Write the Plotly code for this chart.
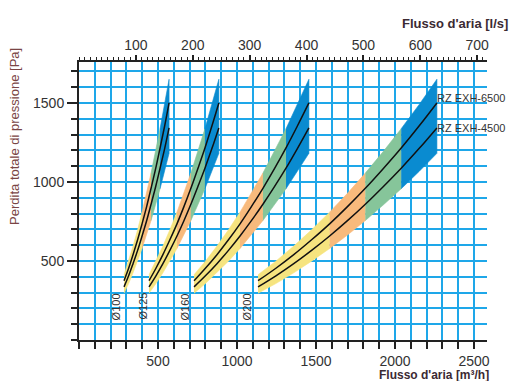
import plotly.graph_objects as go

# ---- data ----
# air flow (m3/h) along each duct curve, fractions 0.50..1.00 of its max flow
q_d100 = [285, 314, 342, 371, 399, 428, 456, 485, 513, 542, 570]
q_d125 = [443, 487, 531, 575, 620, 664, 708, 752, 797, 841, 885]
q_d160 = [728, 800, 873, 946, 1019, 1091, 1164, 1237, 1310, 1382, 1455]
q_d200 = [1133, 1246, 1359, 1472, 1586, 1699, 1812, 1925, 2039, 2152, 2265]
# pressure (Pa) of the two models at those points (same for every duct)
p_6500 = [375, 454, 540, 634, 735, 844, 960, 1084, 1215, 1354, 1500]
p_4500 = [336, 406, 483, 567, 658, 755, 859, 970, 1087, 1211, 1342]
# upper / lower edge of the coloured working band
band_hi = [413, 499, 594, 697, 809, 928, 1056, 1192, 1337, 1489, 1650]
band_lo = [296, 357, 425, 499, 579, 664, 756, 854, 957, 1066, 1181]

ducts = ["Ø100", "Ø125", "Ø160", "Ø200"]
duct_q = [q_d100, q_d125, q_d160, q_d200]
duct_label_q = [240, 405, 677, 1069]
duct_label_p = 212

# band colour segments (index ranges along the curves)
seg_ranges = [(0, 4), (4, 6), (6, 8), (8, 10)]
seg_colors = ["#F6E47F", "#F8BA7C", "#86C59A", "#0A8BD0"]

model_labels = ["RZ EXH-6500", "RZ EXH-4500"]
model_label_p = [1532, 1342]

x_major = [500, 1000, 1500, 2000, 2500]
y_major = [500, 1000, 1500]
top_ticks = [100, 200, 300, 400, 500, 600, 700]

X_MAX = 2582
Y_MAX = 1759
GRID = "#1EA7E9"
AX = "#222222"
FONT = "Liberation Sans"

fig = go.Figure()

for q in duct_q:
    for (i0, i1), col in zip(seg_ranges, seg_colors):
        xs = q[i0:i1 + 1] + q[i0:i1 + 1][::-1]
        ys = band_hi[i0:i1 + 1] + band_lo[i0:i1 + 1][::-1]
        fig.add_trace(go.Scatter(x=xs, y=ys, fill="toself", fillcolor=col,
                                 mode="lines", line=dict(color=col, width=0.6),
                                 hoverinfo="skip", showlegend=False))
    for p in (p_6500, p_4500):
        fig.add_trace(go.Scatter(x=q, y=p, mode="lines",
                                 line=dict(color="#111111", width=1.5, shape="spline"),
                                 showlegend=False))

# invisible trace to carry the top (l/s) axis
fig.add_trace(go.Scatter(x=[0, X_MAX / 3.6], y=[0, 0], xaxis="x2", mode="markers",
                         marker=dict(opacity=0), hoverinfo="skip", showlegend=False))

for name, qx in zip(ducts, duct_label_q):
    fig.add_annotation(x=qx, y=duct_label_p, text=name, showarrow=False,
                       textangle=-90, xanchor="center", yanchor="middle",
                       font=dict(family=FONT, size=11, color="#333"))

for lab, p in zip(model_labels, model_label_p):
    fig.add_annotation(x=2254, y=p, text=lab, showarrow=False, xanchor="left",
                       yanchor="middle", font=dict(family=FONT, size=11, color="#333"))

fig.add_annotation(xref="paper", yref="paper", x=-0.157, y=0.734,
                   xanchor="center", yanchor="middle",
                   text="Perdita totale di pressione [Pa]", textangle=-90,
                   showarrow=False, font=dict(family=FONT, size=13, color="#7a4545"))
fig.add_annotation(xref="paper", yref="paper", x=0.922, y=1.14,
                   xanchor="center", yanchor="middle",
                   text="<b>Flusso d'aria [l/s]</b>", showarrow=False,
                   font=dict(family=FONT, size=13, color="#3b2a33"))
fig.add_annotation(xref="paper", yref="paper", x=0.730, y=-0.126, xanchor="left",
                   yanchor="middle",
                   text="<b>Flusso d'aria [m³/h]</b>", showarrow=False,
                   font=dict(family=FONT, size=12, color="#3b2a33"))

tickfont = dict(family=FONT, size=14, color="#333")
fig.update_layout(
    width=521, height=381,
    margin=dict(l=71, r=42, t=54, b=49, autoexpand=False),
    plot_bgcolor="white", paper_bgcolor="white",
    xaxis=dict(range=[0, X_MAX], tickvals=x_major, ticks="outside", ticklen=7,
               tickwidth=2, tickcolor=AX, showline=True, linecolor=AX, linewidth=2,
               showgrid=True, gridcolor=GRID, gridwidth=2, zeroline=False,
               tickfont=tickfont, automargin=False,
               minor=dict(dtick=100, tick0=0, ticks="outside", ticklen=7, tickwidth=2,
                          tickcolor=AX, showgrid=True, gridcolor=GRID, gridwidth=2)),
    yaxis=dict(range=[0, Y_MAX], tickvals=y_major, ticks="outside", ticklen=10,
               tickwidth=2, tickcolor=AX, showline=True, linecolor=AX, linewidth=2,
               showgrid=True, gridcolor=GRID, gridwidth=2, zeroline=False,
               tickfont=tickfont, automargin=False,
               minor=dict(dtick=100, tick0=0, ticks="outside", ticklen=6, tickwidth=2,
                          tickcolor=AX, showgrid=True, gridcolor=GRID, gridwidth=2)),
    xaxis2=dict(range=[0, X_MAX / 3.6], overlaying="x", side="top", anchor="y",
                tickvals=top_ticks, ticks="outside", ticklen=5, tickwidth=1.5,
                tickcolor=AX, showline=True, linecolor=AX, linewidth=1.5,
                showgrid=False, zeroline=False, tickfont=tickfont, automargin=False,
                minor=dict(dtick=10, tick0=0, ticks="outside", ticklen=3,
                           tickwidth=1, tickcolor=AX, showgrid=False)),
)

fig.write_html("out.html")
